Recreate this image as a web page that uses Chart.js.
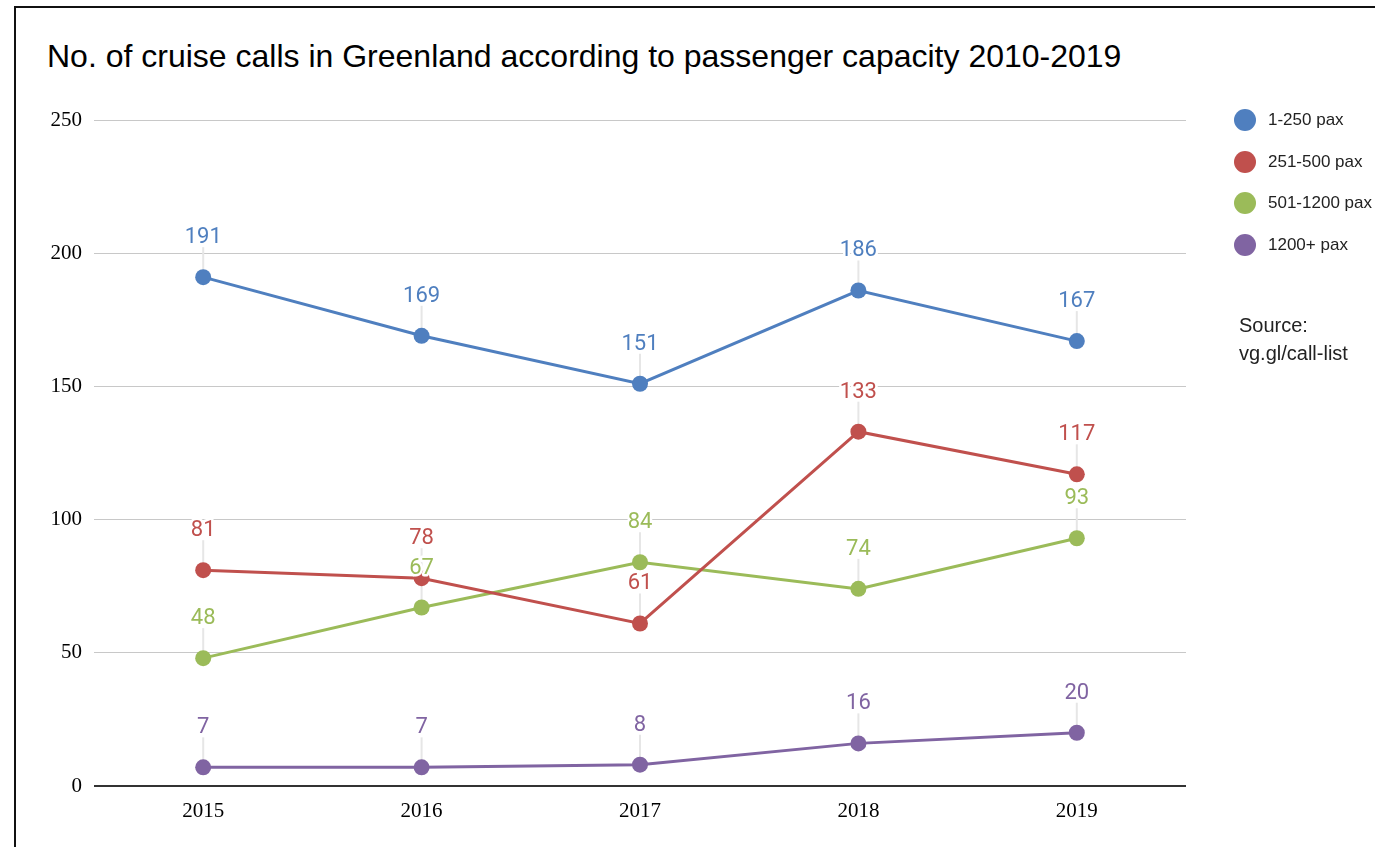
<!DOCTYPE html>
<html>
<head>
<meta charset="utf-8">
<title>Cruise calls in Greenland</title>
<script src="https://cdn.jsdelivr.net/npm/chart.js@4/dist/chart.umd.min.js"></script>
<style>
  html, body { margin: 0; padding: 0; background: #fff; overflow: hidden; }
  body { width: 1375px; height: 847px; position: relative; font-family: "Liberation Sans", Arial, sans-serif; }
  .frame {
    position: absolute; left: 14px; top: 6px; width: 1500px; height: 1000px;
    border-left: 2px solid #111; border-top: 2px solid #111;
  }
  h1 {
    position: absolute; left: 47px; top: 36px; margin: 0;
    font-size: 32px; font-weight: normal; color: #000; white-space: nowrap; line-height: 40px;
  }
  #chart { position: absolute; left: 0; top: 0; }
  #legend { position: absolute; left: 1234px; top: 99px; }
  .item { display: flex; align-items: center; height: 41.7px; font-size: 17px; color: #222; white-space: nowrap; }
  .dot { width: 22px; height: 22px; border-radius: 50%; margin-right: 12px; }
  .source { position: absolute; left: 1239px; top: 311px; font-size: 20px; line-height: 28px; color: #222; }
</style>
</head>
<body>
<div class="frame"></div>
<h1>No. of cruise calls in Greenland according to passenger capacity 2010-2019</h1>
<canvas id="chart" width="1375" height="847"></canvas>
<div id="legend"></div>
<div class="source">Source:<br>vg.gl/call-list</div>
<script>
// data
const years = ['2015', '2016', '2017', '2018', '2019']
const seriesNames = ['1-250 pax', '251-500 pax', '501-1200 pax', '1200+ pax']
const seriesColors = ['#4f7fbf', '#c0504d', '#9bbb59', '#8064a2']
const pax1to250 = [191, 169, 151, 186, 167]
const pax251to500 = [81, 78, 61, 133, 117]
const pax501to1200 = [48, 67, 84, 74, 93]
const pax1200plus = [7, 7, 8, 16, 20]
const yTicks = [0, 50, 100, 150, 200, 250]

const seriesValues = [pax1to250, pax251to500, pax501to1200, pax1200plus]

// value labels above each point, with a thin leader line down to the marker
const pointLabels = {
    id: 'pointLabels',
    beforeDatasetsDraw(chart) {
        let ctx = chart.ctx
        ctx.save()
        ctx.strokeStyle = '#e6e6e6'
        ctx.lineWidth = 2
        chart.data.datasets.forEach(function(ds, i) {
            chart.getDatasetMeta(i).data.forEach(function(pt) {
                ctx.beginPath()
                ctx.moveTo(pt.x, pt.y - 30)
                ctx.lineTo(pt.x, pt.y)
                ctx.stroke()
            })
        })
        ctx.restore()
    },
    afterDatasetsDraw(chart) {
        let ctx = chart.ctx
        ctx.save()
        ctx.font = '22px Roboto'
        ctx.textAlign = 'center'
        ctx.textBaseline = 'alphabetic'
        ctx.lineJoin = 'round'
        chart.data.datasets.forEach(function(ds, i) {
            chart.getDatasetMeta(i).data.forEach(function(pt, j) {
                let text = String(ds.data[j])
                ctx.strokeStyle = '#fff'
                ctx.lineWidth = 5
                ctx.strokeText(text, pt.x, pt.y - 34)
                ctx.fillStyle = ds.borderColor
                ctx.fillText(text, pt.x, pt.y - 34)
            })
        })
        ctx.restore()
    }
}

let context = document.querySelector('#chart').getContext('2d')

let chart = new Chart(context, {
    type: 'line',
    data: {
        labels: years,
        datasets: seriesNames.map(function(name, i) {
            return {
                label: name,
                data: seriesValues[i],
                borderColor: seriesColors[i],
                backgroundColor: seriesColors[i],
                borderWidth: 3,
                pointRadius: 8,
                pointHoverRadius: 8,
                pointBorderWidth: 0,
                tension: 0
            }
        })
    },
    options: {
        responsive: false,
        animation: false,
        events: [],
        layout: { padding: { left: 0, top: 120, right: 189, bottom: 0 } },
        plugins: {
            legend: { display: false },
            title: { display: false },
            tooltip: { enabled: false }
        },
        scales: {
            x: {
                offset: true,
                grid: { display: false },
                border: { display: false },
                ticks: {
                    color: '#000',
                    padding: 5,
                    font: { family: 'Liberation Serif', size: 21 }
                },
                afterFit: function(scale) { scale.height = 61 }
            },
            y: {
                min: 0,
                max: 250,
                afterBuildTicks: function(scale) {
                    scale.ticks = yTicks.map(function(v) { return { value: v } })
                },
                border: { display: false },
                grid: {
                    drawTicks: false,
                    color: function(c) { return c.tick && c.tick.value === 0 ? '#333' : '#c8c8c8' },
                    lineWidth: function(c) { return c.tick && c.tick.value === 0 ? 2 : 1 }
                },
                ticks: {
                    color: '#000',
                    padding: 12,
                    font: { family: 'Liberation Serif', size: 21 }
                },
                afterFit: function(scale) { scale.width = 94 }
            }
        }
    },
    plugins: [pointLabels]
})

// legend from the dataset names and colours
let legend = document.querySelector('#legend')
seriesNames.forEach(function(name, i) {
    let row = document.createElement('div')
    row.className = 'item'
    let dot = document.createElement('span')
    dot.className = 'dot'
    dot.style.background = seriesColors[i]
    row.appendChild(dot)
    row.appendChild(document.createTextNode(name))
    legend.appendChild(row)
})
</script>
</body>
</html>
